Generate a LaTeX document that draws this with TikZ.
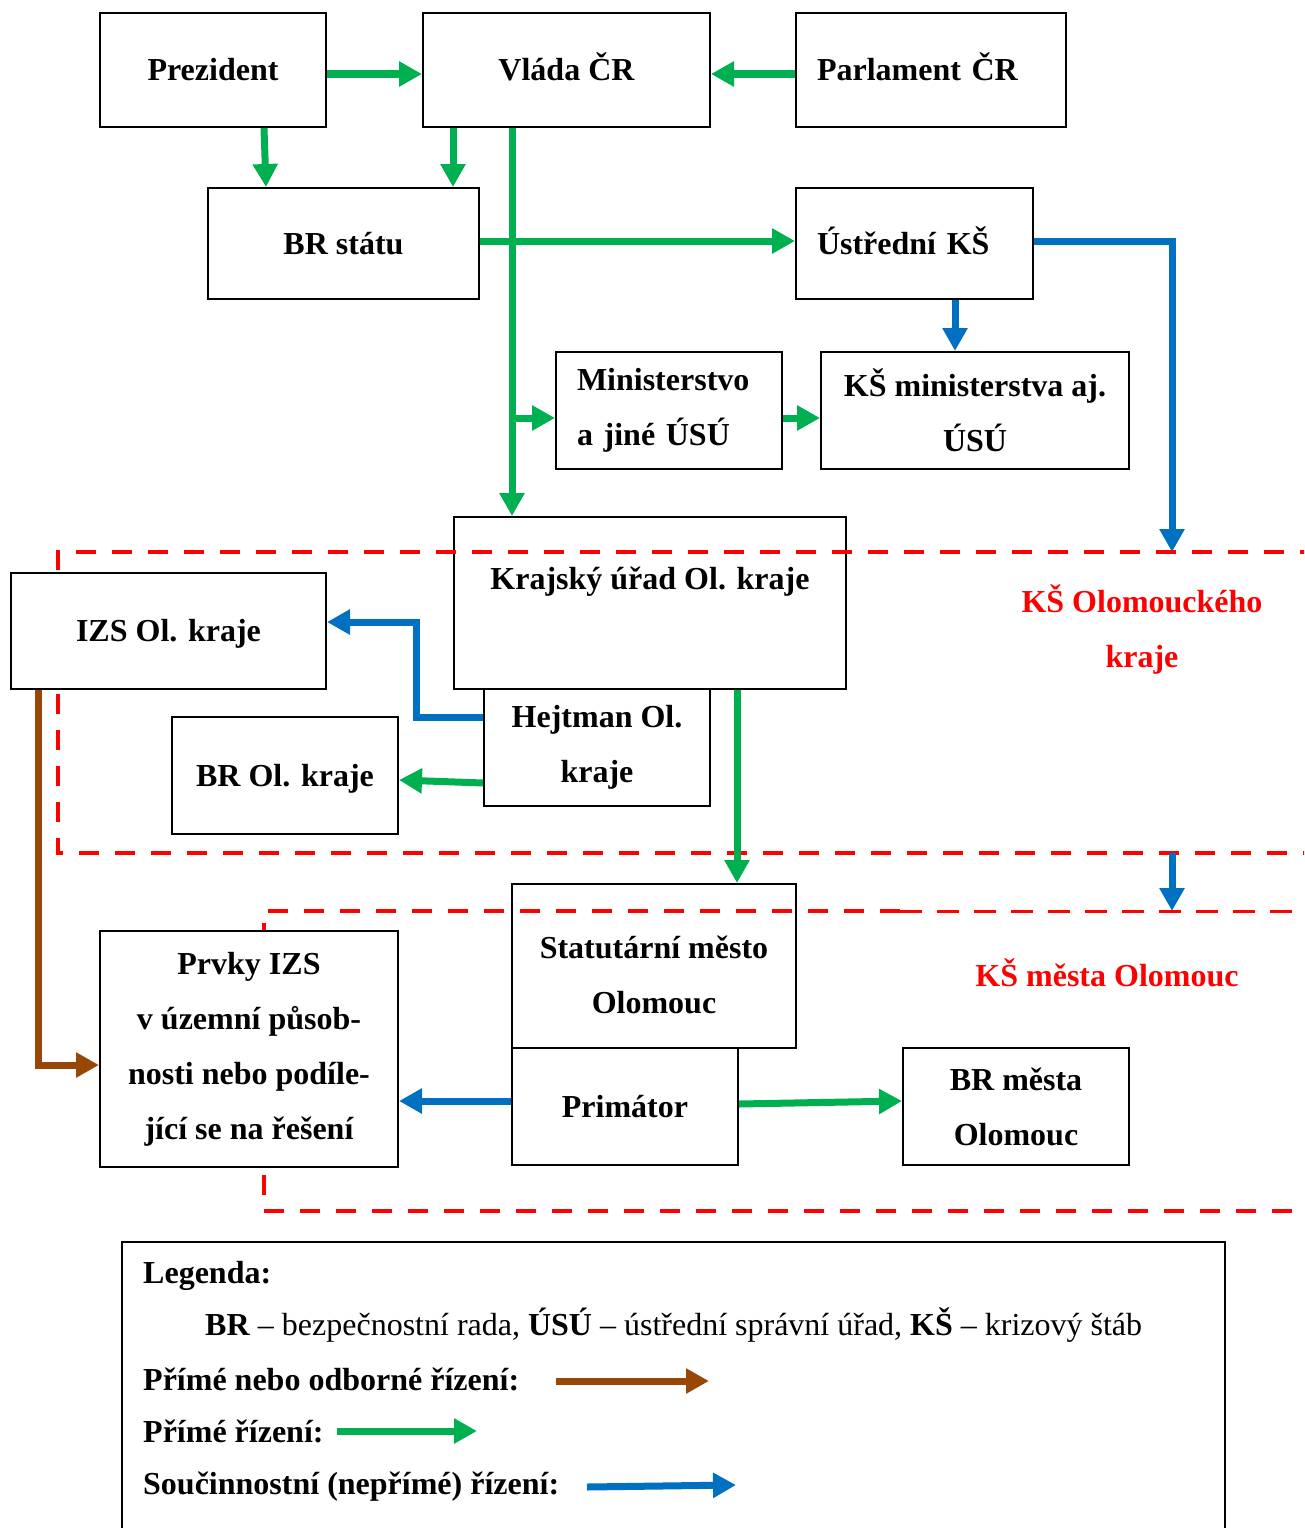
\documentclass[tikz,border=0pt]{standalone}
\usepackage{fontspec}
\setmainfont{Liberation Serif}
\usetikzlibrary{arrows.meta,calc}

\definecolor{cgreen}{HTML}{00B050}
\definecolor{cblue}{HTML}{0070C0}
\definecolor{cbrown}{HTML}{974806}
\definecolor{cred}{HTML}{FF0000}

\tikzset{
  box/.style={draw=black, line width=2pt, fill=white, rectangle, inner sep=0pt,
    font=\fontsize{32}{55}\selectfont\bfseries, align=center},
  % one-line boxes: a strut keeps the line box like a word processor's
  sbox/.style={box, execute at begin node={\rule[-8pt]{0pt}{37pt}}},
  lbox/.style={box, align=left, inner xsep=21pt},
  slbox/.style={lbox, execute at begin node={\rule[-8pt]{0pt}{37pt}}},
  txt/.style={inner sep=0pt, font=\fontsize{32}{55}\selectfont\bfseries, align=center},
  redtxt/.style={txt, text=cred},
  legtxt/.style={inner sep=0pt, anchor=west, font=\fontsize{32}{36}\selectfont},
  legbold/.style={legtxt, font=\fontsize{32}{36}\selectfont\bfseries},
  conn/.style={line width=7pt, -{Triangle[length=23pt,width=24pt]}},
  garrow/.style={conn, draw=cgreen},
  barrow/.style={conn, draw=cblue},
  brarrow/.style={conn, draw=cbrown},
  reddash/.style={draw=cred, line width=4.5pt, dash pattern=on 20pt off 16pt},
}

\begin{document}
\begin{tikzpicture}[x=1pt, y=-1pt]
\useasboundingbox (0,0) rectangle (1304,1528);
\clip (0,0) rectangle (1304,1528);

% central government
\node[sbox, minimum width=226pt, minimum height=114pt] (pres) at (213,70) {Prezident};
\node[sbox, minimum width=287pt, minimum height=114pt] (vlada) at (566.5,70) {Vláda ČR};
\node[slbox, text width=228pt, minimum height=114pt] (parl) at (931,70) {Parlament ČR};
\node[sbox, minimum width=271pt, minimum height=111pt] (brs) at (343.5,243.5) {BR státu};
\node[slbox, text width=195pt, minimum height=111pt] (ustr) at (914.5,243.5) {Ústřední KŠ};
\node[lbox, text width=184pt, minimum height=117pt] (mini) at (669,410.5) {Ministerstvo\\a jiné ÚSÚ};
\node[box, minimum width=308pt, minimum height=117pt] (ksmin) at (975,410.5) {KŠ ministerstva aj.\\ÚSÚ};

% region
\node[box, minimum width=392pt, minimum height=172pt] (kraj) at (650,603) {};
\node[txt] (krajt) at (650,582) {Krajský úřad Ol. kraje};
\node[box, minimum width=226pt, minimum height=117pt] (hejt) at (597,747.5) {Hejtman Ol.\\kraje};
\node[sbox, minimum width=226pt, minimum height=117pt] (brol) at (285,775.5) {BR Ol. kraje};

% city
\node[box, minimum width=284pt, minimum height=164pt] (stat) at (654,966) {};
\node[txt] (statt) at (654,974.5) {Statutární město\\Olomouc};
\node[sbox, minimum width=226pt, minimum height=117pt] (prim) at (625,1106.5) {Primátor};
\node[box, minimum width=226pt, minimum height=117pt] (brm) at (1016,1106.5) {BR města\\Olomouc};

% crisis staff borders
\draw[reddash] (1320,552) -- (58,552) -- (58,853) -- (1320,853);
\draw[reddash] (900,911) -- (264,911) -- (264,1211) -- (1320,1211);
\draw[reddash, line width=3pt, dash pattern=on 22pt off 15pt] (900,911) -- (1320,911);
\node[redtxt] (kso) at (1142,629.5) {KŠ Olomouckého\\kraje};
\node[redtxt] (ksm) at (1107,973) {KŠ města Olomouc};

% boxes lying over the borders
\node[sbox, minimum width=315pt, minimum height=116pt] (izs) at (168.5,631) {IZS Ol. kraje};
\node[box, minimum width=298pt, minimum height=236pt] (prvky) at (249,1049)
  {Prvky IZS\\v územní působ-\\nosti nebo podíle-\\jící se na řešení};

\coordinate (ksotop) at (1172,552);
\coordinate (ksobot) at (1172,853);
\coordinate (ksmtop) at (1172,911);
\coordinate (vl) at ([xshift=-54.5pt]vlada.south);

% connectors
\draw[garrow] ([yshift=-4pt]pres.east) -- ([yshift=-4pt]vlada.west);
\draw[garrow] ([yshift=-4pt]parl.west) -- ([yshift=-4pt]vlada.east);
\draw[garrow] ([xshift=51pt]pres.south) -- ([xshift=-77.5pt]brs.north);
\draw[garrow] ([xshift=-113.5pt]vlada.south) -- ([xshift=109.5pt]brs.north);
\draw[garrow] ([yshift=2.5pt]brs.east) -- ([yshift=2.5pt]ustr.west);
\draw[garrow] (vl) -- ([xshift=-138pt]kraj.north);
\draw[garrow] ([yshift=-7.5pt]vl |- mini.west) -- ([yshift=-7.5pt]mini.west);
\draw[garrow] ([yshift=-7.5pt]mini.east) -- ([yshift=-7.5pt]ksmin.west);
\draw[barrow] ([xshift=40.5pt]ustr.south) -- ([xshift=-20pt]ksmin.north);
\draw[barrow] ([yshift=2.5pt]ustr.east) -| (ksotop);
\draw[barrow] (ksobot) -- (ksmtop);
\draw[barrow] ([yshift=30.5pt]hejt.west) -| ($(izs.east)+(89,-9)$) -- ([yshift=9pt]izs.east);
\draw[garrow] ([yshift=-35.5pt]hejt.west) -- ([yshift=-4.5pt]brol.east);
\draw[garrow] ([xshift=87pt]kraj.south) -- ([xshift=83pt]stat.north);
\draw[brarrow] ([xshift=-130.5pt]izs.south) |- ([yshift=-16pt]prvky.west);
\draw[barrow] ([yshift=5.5pt]prim.west) -- ([yshift=-52pt]prvky.east);
\draw[garrow] ([yshift=2.5pt]prim.east) -- ([yshift=5.5pt]brm.west);

% legend
\draw[line width=2pt] (122,1560) -- (122,1242) -- (1225,1242) -- (1225,1560);
\node[legbold] (lg1) at (143,1276) {Legenda:};
\node[legtxt] (lg2) at (205,1325) {\textbf{BR} – bezpečnostní rada, \textbf{ÚSÚ} – ústřední správní úřad, \textbf{KŠ} – krizový štáb};
\node[legbold] (lg3) at (143,1379) {Přímé nebo odborné řízení:};
\node[legbold] (lg4) at (143,1431) {Přímé řízení:};
\node[legbold] (lg5) at (143,1487) {Součinnostní (nepřímé) řízení:};
\coordinate (a1s) at (556,1381); \coordinate (a1e) at (709,1381);
\coordinate (a2s) at (337,1431); \coordinate (a2e) at (477,1431);
\coordinate (a3s) at (587,1487); \coordinate (a3e) at (736,1485);
\draw[brarrow] (a1s) -- (a1e);
\draw[garrow] (a2s) -- (a2e);
\draw[barrow] (a3s) -- (a3e);
\end{tikzpicture}
\end{document}
